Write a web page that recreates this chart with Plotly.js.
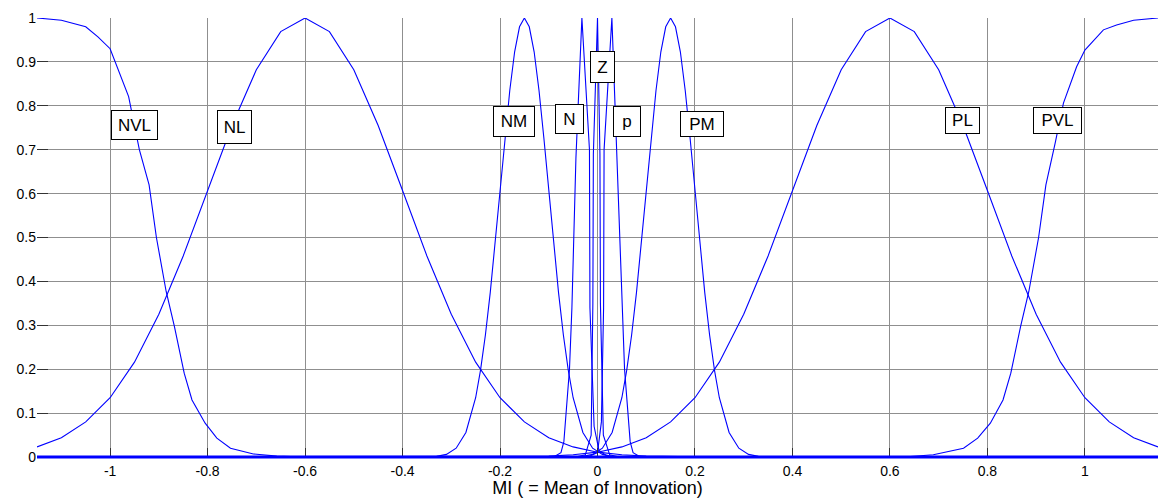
<!DOCTYPE html>
<html>
<head>
<meta charset="utf-8">
<script src="https://cdn.plot.ly/plotly-3.0.1.min.js"></script>
<style>
html,body{margin:0;padding:0;background:#fff;}
#chart{width:1159px;height:498px;}
</style>
</head>
<body>
<div id="chart"></div>
<script>
// ---- tick labels ----
const xTickVals = [-1, -0.8, -0.6, -0.4, -0.2, 0, 0.2, 0.4, 0.6, 0.8, 1];
const xTickText = ['-1', '-0.8', '-0.6', '-0.4', '-0.2', '0', '0.2', '0.4', '0.6', '0.8', '1'];
const yTickVals = [0, 0.1, 0.2, 0.3, 0.4, 0.5, 0.6, 0.7, 0.8, 0.9, 1];
const yTickText = ['0', '0.1', '0.2', '0.3', '0.4', '0.5', '0.6', '0.7', '0.8', '0.9', '1'];

// ---- membership function labels ----
const labelTexts = ['NVL', 'NL', 'NM', 'N', 'Z', 'p', 'PM', 'PL', 'PVL'];

// ---- series ----
const xNVL = [-1.15, -1.10, -1.05, -1.025, -1.0, -0.983, -0.962, -0.94, -0.92, -0.905, -0.885, -0.868, -0.848, -0.832, -0.805, -0.781, -0.753, -0.706, -0.658, -0.6, 1.15];
const yNVL = [1.0, 0.995, 0.98, 0.957, 0.93, 0.882, 0.821, 0.70, 0.62, 0.50, 0.377, 0.297, 0.191, 0.13, 0.077, 0.043, 0.020, 0.007, 0.002, 0, 0];

const xNL = [-1.15, -1.10, -1.05, -1.0, -0.95, -0.9, -0.85, -0.8, -0.75, -0.7, -0.65, -0.6, -0.55, -0.5, -0.45, -0.4, -0.35, -0.3, -0.25, -0.2, -0.15, -0.1, -0.05, 0, 0.05, 0.1, 0.2, 1.15];
const yNL = [0.023, 0.044, 0.080, 0.135, 0.216, 0.325, 0.458, 0.607, 0.755, 0.882, 0.969, 1.0, 0.969, 0.882, 0.755, 0.607, 0.458, 0.325, 0.216, 0.135, 0.080, 0.044, 0.023, 0.011, 0.005, 0.002, 0.0003, 0];

const xNM = [-1.15, -0.35, -0.33, -0.31, -0.29, -0.27, -0.25, -0.24, -0.23, -0.22, -0.21, -0.20, -0.19, -0.18, -0.17, -0.16, -0.15, -0.14, -0.13, -0.12, -0.11, -0.10, -0.09, -0.08, -0.07, -0.06, -0.05, -0.03, -0.01, 0.01, 0.03, 0.05, 1.15];
const yNM = [0, 0.0003, 0.0015, 0.006, 0.020, 0.056, 0.135, 0.198, 0.278, 0.375, 0.487, 0.607, 0.726, 0.835, 0.923, 0.980, 1.0, 0.980, 0.923, 0.835, 0.726, 0.607, 0.487, 0.375, 0.278, 0.198, 0.135, 0.056, 0.020, 0.006, 0.0015, 0.0003, 0];

const xN = [-1.15, -0.09, -0.075, -0.069, -0.0575, -0.0525, -0.0443, -0.032, -0.0165, -0.0155, -0.007, 0.003, 0.02, 0.04, 1.15];
const yN = [0, 0, 0.01, 0.035, 0.20, 0.34, 0.68, 1.0, 0.70, 0.34, 0.07, 0.015, 0.002, 0, 0];

const xZ = [-1.15, -0.045, -0.025, -0.013, -0.0095, -0.0085, 0, 0.005, 0.006, 0.012, 0.025, 0.045, 1.15];
const yZ = [0, 0, 0.005, 0.05, 0.35, 0.69, 1.0, 0.69, 0.35, 0.05, 0.005, 0, 0];

const xP = [-1.15, -0.02, 0, 0.008, 0.0125, 0.0135, 0.0295, 0.0405, 0.05, 0.0555, 0.067, 0.073, 0.088, 1.15];
const yP = [0, 0, 0.01, 0.08, 0.34, 0.70, 1.0, 0.677, 0.36, 0.2, 0.035, 0.01, 0, 0];

const xPM = [-1.15, -0.05, -0.03, -0.01, 0.01, 0.03, 0.05, 0.06, 0.07, 0.08, 0.09, 0.10, 0.11, 0.12, 0.13, 0.14, 0.15, 0.16, 0.17, 0.18, 0.19, 0.20, 0.21, 0.22, 0.23, 0.24, 0.25, 0.27, 0.29, 0.31, 0.33, 0.35, 1.15];
const yPM = [0, 0.0003, 0.0015, 0.006, 0.020, 0.056, 0.135, 0.198, 0.278, 0.375, 0.487, 0.607, 0.726, 0.835, 0.923, 0.980, 1.0, 0.980, 0.923, 0.835, 0.726, 0.607, 0.487, 0.375, 0.278, 0.198, 0.135, 0.056, 0.020, 0.006, 0.0015, 0.0003, 0];

const xPL = [-1.15, -0.2, -0.1, -0.05, 0, 0.05, 0.1, 0.15, 0.2, 0.25, 0.3, 0.35, 0.4, 0.45, 0.5, 0.55, 0.6, 0.65, 0.7, 0.75, 0.8, 0.85, 0.9, 0.95, 1.0, 1.05, 1.10, 1.15];
const yPL = [0, 0.0003, 0.002, 0.005, 0.011, 0.023, 0.044, 0.080, 0.135, 0.216, 0.325, 0.458, 0.607, 0.755, 0.882, 0.969, 1.0, 0.969, 0.882, 0.755, 0.607, 0.458, 0.325, 0.216, 0.135, 0.080, 0.044, 0.023];

const xPVL = [-1.15, 0.6, 0.642, 0.689, 0.73, 0.751, 0.78, 0.806, 0.832, 0.848, 0.868, 0.885, 0.905, 0.92, 0.939, 0.956, 0.983, 1.0, 1.038, 1.065, 1.10, 1.15];
const yPVL = [0, 0, 0.001, 0.005, 0.014, 0.020, 0.043, 0.077, 0.13, 0.191, 0.297, 0.377, 0.50, 0.62, 0.715, 0.806, 0.889, 0.927, 0.973, 0.984, 0.995, 1.0];

const seriesX = [xNVL, xNL, xNM, xN, xZ, xP, xPM, xPL, xPVL];
const seriesY = [yNVL, yNL, yNM, yN, yZ, yP, yPM, yPL, yPVL];

const FONT = '"Liberation Sans", Arial, Helvetica, sans-serif';
const BLUE = '#0000ff';

const traces = seriesX.map((xs, i) => ({
  type: 'scatter',
  mode: 'lines',
  x: xs,
  y: seriesY[i],
  name: labelTexts[i],
  line: {color: BLUE, width: 1.1},
  hoverinfo: 'skip'
}));

// label boxes: [x, y, width, height] of the box (top-left anchored)
const labelBoxes = [
  [-0.998, 0.790, 47, 30],
  [-0.781, 0.790, 35, 34],
  [-0.2144, 0.7995, 42, 31],
  [-0.0872, 0.804, 29, 30],
  [-0.0154, 0.9248, 25, 32],
  [0.0318, 0.7995, 28, 31],
  [0.1693, 0.788, 44, 26],
  [0.713, 0.797, 35, 27],
  [0.8935, 0.797, 49, 27]
];

const annotations = labelTexts.map((t, i) => ({
  text: t,
  x: labelBoxes[i][0],
  y: labelBoxes[i][1],
  xref: 'x', yref: 'y',
  xanchor: 'left', yanchor: 'top',
  showarrow: false,
  width: labelBoxes[i][2] - 2,
  height: labelBoxes[i][3] - 2,
  bgcolor: '#ffffff',
  bordercolor: '#000000',
  borderwidth: 1,
  borderpad: 0,
  font: {family: FONT, size: 17, color: '#000'}
}));

const layout = {
  width: 1159,
  height: 498,
  margin: {l: 37, r: 1, t: 18, b: 41, pad: 0},
  paper_bgcolor: '#ffffff',
  plot_bgcolor: '#ffffff',
  showlegend: false,
  font: {family: FONT, size: 14, color: '#000'},
  xaxis: {
    range: [-1.15, 1.15],
    tickmode: 'array',
    tickvals: xTickVals,
    ticktext: xTickText,
    ticks: 'inside',
    ticklen: 9,
    tickcolor: '#333',
    ticklabelstandoff: 4,
    showgrid: true,
    gridcolor: '#8f8f8f',
    gridwidth: 1,
    zeroline: false,
    showline: false,
    tickfont: {family: FONT, size: 14, color: '#000'},
    title: {text: 'MI ( = Mean of Innovation)', font: {family: FONT, size: 18, color: '#000'}, standoff: 3}
  },
  yaxis: {
    range: [0, 1],
    tickmode: 'array',
    tickvals: yTickVals,
    ticktext: yTickText,
    ticks: 'inside',
    ticklen: 11,
    tickcolor: '#333',
    showgrid: true,
    gridcolor: '#8f8f8f',
    gridwidth: 1,
    zeroline: false,
    showline: false,
    tickfont: {family: FONT, size: 14, color: '#000'}
  },
  shapes: [{
    type: 'line', xref: 'paper', yref: 'paper',
    x0: 0, x1: 1, y0: 0, y1: 0,
    line: {color: BLUE, width: 3},
    layer: 'above'
  }],
  annotations: annotations
};

Plotly.newPlot('chart', traces, layout, {displayModeBar: false, staticPlot: true});
</script>
</body>
</html>
